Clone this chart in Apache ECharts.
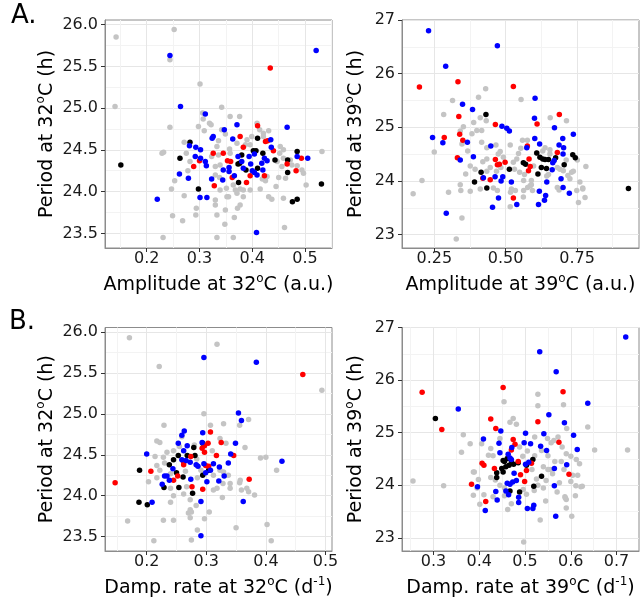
<!DOCTYPE html>
<html><head><meta charset="utf-8">
<script src="https://cdn.jsdelivr.net/npm/echarts@6/dist/echarts.min.js"></script>
<style>html,body{margin:0;padding:0;background:#fff}#c{width:641px;height:601px}</style>
</head><body><div id="c"></div>
<script>
// ---------- Panel A, 32°C: amplitude vs period ----------
const a32Grey = [[0.142,25.85],[0.252,25.94],[0.140,25.02],[0.244,25.58],[0.301,25.29],[0.249,23.71],[0.268,23.65],[0.231,23.45],[0.333,23.45],[0.348,23.61],[0.364,23.45],[0.366,23.69],[0.461,23.57],[0.244,24.77],[0.333,23.72],
[0.229,24.46],[0.232,24.47],[0.271,24.59],[0.253,24.13],[0.247,24.03],[0.275,24.46],[0.278,24.25],[0.282,24.36],[0.271,23.95],[0.306,24.94],[0.307,24.87],[0.319,24.82],[0.322,24.80],[0.298,24.78],[0.309,24.73],[0.342,25.01],[0.358,24.90],[0.376,24.90],[0.342,24.74],[0.349,24.69],[0.336,24.61],[0.333,24.54],[0.336,24.44],[0.323,24.42],[0.357,24.51],[0.358,24.46],[0.371,24.58],[0.376,24.33],[0.330,24.30],[0.339,24.32],[0.330,24.20],[0.338,24.17],[0.339,24.02],[0.351,24.04],[0.364,24.08],[0.368,24.02],[0.383,24.02],[0.371,23.98],[0.377,24.03],[0.396,24.02],[0.415,24.03],[0.419,24.15],[0.409,24.82],[0.414,24.74],[0.421,24.70],[0.431,24.73],[0.421,24.66],[0.399,24.66],[0.390,24.62],[0.396,24.56],[0.387,24.56],[0.453,24.54],[0.459,24.50],[0.452,24.46],[0.459,24.40],[0.447,24.36],[0.456,24.30],[0.472,24.38],[0.475,24.32],[0.494,24.26],[0.497,24.22],[0.485,24.31],[0.532,24.48],[0.502,24.08],[0.463,24.16],[0.450,24.17],[0.445,24.06],[0.459,23.92],[0.437,23.91],[0.428,24.18],[0.425,24.13],[0.377,23.84],[0.372,23.80],[0.349,23.78],[0.330,23.84],[0.294,23.80],[0.293,23.72],[0.355,23.94],[0.330,23.90],[0.352,23.94],[0.383,23.94],[0.431,23.94]];
const a32Black = [[0.151,24.32],[0.282,24.59],[0.263,24.40],[0.298,24.03],[0.374,24.11],[0.410,24.64],[0.402,24.49],[0.407,24.49],[0.420,24.46],[0.443,24.38],[0.485,24.48],[0.467,24.38],[0.467,24.23],[0.531,24.09],[0.485,23.91],[0.476,23.88],[0.373,24.33],[0.388,24.26],[0.410,24.28],[0.380,24.44],[0.376,24.34]];
const a32Red = [[0.434,25.48],[0.410,24.79],[0.377,24.66],[0.425,24.60],[0.429,24.61],[0.440,24.49],[0.326,24.46],[0.345,24.46],[0.300,24.37],[0.289,24.30],[0.353,24.37],[0.359,24.36],[0.383,24.53],[0.362,24.17],[0.328,24.07],[0.389,24.11],[0.396,24.19],[0.423,24.19],[0.466,24.33],[0.483,24.25],[0.493,24.40]];
const a32Blue = [[0.244,25.63],[0.521,25.69],[0.408,23.51],[0.264,25.02],[0.311,24.93],[0.371,24.80],[0.466,24.77],[0.326,24.66],[0.324,24.64],[0.347,24.74],[0.363,24.63],[0.435,24.62],[0.436,24.53],[0.281,24.55],[0.293,24.53],[0.302,24.50],[0.292,24.42],[0.302,24.40],[0.311,24.36],[0.313,24.31],[0.262,24.21],[0.279,24.16],[0.323,24.15],[0.344,24.14],[0.301,23.93],[0.314,23.93],[0.220,23.91],[0.345,24.26],[0.356,24.29],[0.356,24.24],[0.366,24.19],[0.373,24.42],[0.380,24.36],[0.394,24.42],[0.404,24.45],[0.397,24.33],[0.383,24.28],[0.400,24.25],[0.404,24.23],[0.409,24.20],[0.418,24.34],[0.420,24.26],[0.423,24.40],[0.428,24.37],[0.485,24.42],[0.505,24.40]];

// ---------- Panel A, 39°C ----------
const a39Grey = [[0.314,25.50],[0.430,25.72],[0.405,25.56],[0.554,25.52],[0.327,22.92],
[0.283,25.24],[0.250,24.54],[0.341,24.93],[0.352,25.01],[0.382,24.88],[0.399,24.94],[0.416,24.94],[0.388,25.09],[0.411,25.18],[0.432,25.12],[0.347,24.69],[0.367,24.56],[0.416,24.72],[0.434,24.62],[0.466,24.67],[0.481,24.55],[0.516,24.67],[0.545,24.51],[0.559,24.76],[0.576,24.76],[0.539,24.41],[0.527,24.35],[0.492,24.44],[0.474,24.50],[0.434,24.41],[0.420,24.36],[0.376,24.28],[0.360,24.13],[0.393,24.22],[0.434,24.18],[0.446,24.25],[0.468,24.18],[0.483,24.25],[0.531,24.22],[0.549,24.16],[0.566,24.12],[0.563,24.01],[0.590,24.01],[0.577,23.88],[0.586,23.91],[0.594,23.82],[0.520,23.85],[0.517,23.79],[0.534,23.82],[0.563,23.82],[0.457,23.87],[0.471,23.82],[0.411,23.85],[0.376,23.81],[0.341,23.93],[0.343,23.82],[0.300,23.79],[0.207,24.01],[0.176,23.76],[0.562,23.70],[0.516,23.52],[0.347,23.31],[0.630,24.56],[0.638,24.62],[0.655,24.58],[0.655,24.50],[0.681,24.25],[0.690,24.22],[0.702,24.19],[0.731,24.16],[0.737,24.18],[0.718,24.10],[0.725,24.04],[0.760,23.98],[0.749,23.82],[0.770,23.87],[0.781,24.27],[0.751,24.39],[0.712,24.39],[0.713,25.12],[0.681,23.88],[0.687,23.83],[0.590,23.93],[0.608,24.52],[0.598,24.28],[0.553,24.61],[0.650,24.12],[0.644,24.09],[0.770,23.85],[0.755,23.60],[0.778,23.69],[0.656,25.18]];
const a39Black = [[0.431,25.24],[0.414,24.16],[0.391,23.98],[0.434,23.87],[0.513,24.22],[0.562,24.34],[0.570,24.31],[0.609,24.52],[0.620,24.44],[0.638,24.40],[0.625,24.25],[0.643,24.23],[0.613,24.13],[0.675,24.43],[0.705,24.30],[0.735,24.49],[0.744,24.43],[0.930,23.86],[0.630,24.41],[0.650,24.40]];
const a39Red = [[0.198,25.75],[0.333,25.85],[0.527,25.76],[0.336,25.20],[0.285,24.81],[0.339,24.87],[0.350,24.76],[0.331,24.43],[0.464,25.05],[0.688,25.24],[0.610,25.06],[0.576,24.65],[0.681,24.53],[0.582,24.41],[0.464,24.40],[0.471,24.30],[0.478,24.31],[0.498,24.35],[0.586,24.27],[0.580,24.19],[0.420,24.05],[0.446,24.02],[0.527,23.68]];
const a39Blue = [[0.230,26.80],[0.471,26.52],[0.290,26.14],[0.603,25.54],[0.349,25.43],[0.384,25.33],[0.244,24.81],[0.280,24.71],[0.366,24.72],[0.341,24.39],[0.448,24.65],[0.387,24.45],[0.487,25.02],[0.504,24.98],[0.513,24.93],[0.601,25.17],[0.671,24.99],[0.737,24.87],[0.700,24.79],[0.687,24.67],[0.703,24.62],[0.602,24.79],[0.619,24.69],[0.574,24.62],[0.701,24.50],[0.670,24.38],[0.665,24.34],[0.663,24.21],[0.463,24.08],[0.490,24.08],[0.484,24.00],[0.422,24.06],[0.520,23.98],[0.644,23.98],[0.694,24.04],[0.701,23.88],[0.723,23.77],[0.618,23.81],[0.640,23.73],[0.636,23.64],[0.615,23.56],[0.475,23.68],[0.454,23.51],[0.539,23.56],[0.292,23.40]];

// ---------- Panel B, 32°C: damping rate vs period ----------
const b32Grey = [[0.171,25.93],[0.221,25.58],[0.318,25.85],[0.494,25.29],[0.168,23.69],[0.212,23.45],[0.275,23.46],[0.285,23.58],[0.297,23.72],[0.305,23.80],[0.273,23.83],[0.275,23.80],[0.245,23.70],[0.350,23.61],[0.402,23.65],[0.409,23.45],[0.418,24.31],[0.391,24.46],[0.400,24.47],[0.365,24.59],[0.356,24.86],[0.371,24.93],[0.381,24.01],[0.371,24.05],[0.356,24.16],[0.327,23.98],[0.240,23.92],[0.203,24.17],[0.214,24.48],[0.217,24.67],[0.229,24.86],[0.259,24.72],
[0.296,25.00],[0.307,24.86],[0.329,24.88],[0.222,24.65],[0.323,24.70],[0.333,24.64],[0.234,24.53],[0.228,24.47],[0.217,24.37],[0.217,24.22],[0.222,24.31],[0.240,24.27],[0.284,24.45],[0.291,24.31],[0.312,24.25],[0.323,24.31],[0.329,24.29],[0.337,24.25],[0.340,24.15],[0.328,24.15],[0.318,24.09],[0.267,24.11],[0.262,24.02],[0.245,24.00],[0.240,24.09],[0.273,23.95],[0.312,24.07],[0.340,24.09],[0.357,24.19],[0.368,24.09],[0.359,24.07],[0.228,23.70],[0.270,23.79],[0.283,23.88],[0.273,23.73],[0.280,24.62],[0.310,24.55],[0.255,24.60],[0.245,24.55],[0.265,24.30],[0.285,24.22],[0.230,24.40]];
const b32Black = [[0.188,24.31],[0.187,23.92],[0.201,23.89],[0.229,24.10],[0.254,24.10],[0.277,24.03],[0.279,24.59],[0.281,24.49],[0.268,24.49],[0.253,24.49],[0.245,24.44],[0.238,24.38],[0.261,24.23],[0.250,24.28],[0.294,24.25],[0.304,24.31],[0.294,24.64]];
const b32Red = [[0.147,24.16],[0.462,25.48],[0.307,24.78],[0.325,24.65],[0.293,24.58],[0.297,24.61],[0.303,24.64],[0.262,24.41],[0.274,24.48],[0.299,24.37],[0.304,24.36],[0.317,24.49],[0.346,24.49],[0.207,24.30],[0.245,24.19],[0.252,24.24],[0.276,24.11],[0.294,24.08],[0.372,24.20],[0.297,24.53],[0.262,24.38]];
const b32Blue = [[0.296,25.69],[0.384,25.63],[0.427,24.42],[0.291,23.51],[0.354,25.01],[0.359,24.92],[0.263,24.79],[0.259,24.74],[0.294,24.77],[0.200,24.51],[0.253,24.64],[0.268,24.61],[0.293,24.65],[0.349,24.64],[0.341,24.51],[0.337,24.40],[0.262,24.55],[0.259,24.44],[0.273,24.41],[0.283,24.38],[0.296,24.39],[0.307,24.31],[0.299,24.28],[0.312,24.39],[0.322,24.35],[0.244,24.33],[0.234,24.24],[0.238,24.19],[0.226,24.14],[0.274,24.20],[0.301,24.17],[0.321,24.18],[0.291,23.93],[0.362,23.93],[0.209,23.92],[0.230,24.24],[0.266,24.43],[0.286,24.36],[0.330,24.24]];

// ---------- Panel B, 39°C ----------
const b39Grey = [[0.255,24.08],[0.528,25.73],[0.497,22.92],[0.724,24.67],[0.652,24.67],
[0.454,25.59],[0.474,25.27],[0.481,25.16],[0.528,25.51],[0.584,25.53],[0.637,25.11],[0.365,24.96],[0.361,24.63],[0.380,24.79],[0.405,24.79],[0.389,24.25],[0.398,24.11],[0.420,24.57],[0.425,24.70],[0.488,24.73],[0.521,24.92],[0.549,24.89],[0.557,24.81],[0.563,24.85],[0.581,24.73],[0.612,24.49],[0.619,24.41],[0.579,24.45],[0.604,24.19],[0.625,23.98],[0.587,23.78],[0.590,23.73],[0.602,23.41],[0.533,23.34],[0.462,23.54],[0.401,23.64],[0.387,23.81],[0.322,23.99],[0.496,23.92],[0.503,23.83],[0.528,24.00],[0.525,24.12],[0.546,24.09],[0.550,24.56],[0.536,24.66],[0.521,24.56],[0.540,24.35],[0.555,24.30],[0.430,24.56],[0.445,24.89],[0.435,24.10],[0.445,24.00],[0.425,24.15],[0.455,23.95],[0.515,24.30],[0.520,23.90],[0.560,24.22],[0.565,24.45],[0.590,24.60],[0.600,24.55],[0.575,24.05],[0.585,24.30],[0.600,24.07],[0.410,23.82],[0.430,23.78],[0.467,25.20],[0.505,24.65],[0.495,24.55],[0.572,24.92],[0.550,24.30],[0.611,23.99],[0.615,24.19],[0.622,23.97],[0.588,23.76],[0.590,23.57],[0.387,24.25],[0.591,25.08],[0.545,23.70],[0.570,23.87],[0.610,23.80],[0.395,23.95],[0.455,23.80],[0.470,23.65],[0.540,23.95]];
const b39Black = [[0.304,25.27],[0.452,24.47],[0.461,24.51],[0.470,24.46],[0.475,24.40],[0.465,24.38],[0.458,24.35],[0.449,24.32],[0.438,24.24],[0.438,24.15],[0.452,24.25],[0.485,24.43],[0.517,24.49],[0.503,24.38],[0.536,24.17],[0.519,23.98],[0.488,23.87],[0.467,23.89],[0.455,24.45]];
const b39Red = [[0.275,25.77],[0.452,25.86],[0.583,25.78],[0.318,25.06],[0.425,25.26],[0.436,25.08],[0.474,24.87],[0.478,24.78],[0.528,25.21],[0.574,24.82],[0.596,24.21],[0.406,24.42],[0.410,24.38],[0.433,24.32],[0.383,24.02],[0.414,23.69],[0.485,24.45],[0.503,24.28],[0.514,24.42],[0.499,24.07],[0.490,24.20],[0.470,24.67]];
const b39Blue = [[0.720,26.82],[0.532,26.54],[0.568,26.16],[0.354,25.45],[0.552,25.34],[0.586,25.19],[0.447,25.03],[0.501,24.99],[0.541,24.98],[0.606,24.95],[0.614,24.68],[0.409,24.88],[0.443,24.80],[0.498,24.81],[0.512,24.79],[0.534,24.74],[0.547,24.66],[0.445,24.62],[0.463,24.59],[0.467,24.52],[0.470,24.49],[0.501,24.40],[0.508,24.44],[0.591,24.39],[0.564,24.32],[0.476,24.23],[0.481,24.09],[0.473,24.06],[0.467,24.02],[0.461,24.04],[0.396,23.97],[0.436,23.88],[0.458,23.89],[0.464,23.82],[0.439,23.72],[0.486,23.77],[0.486,23.67],[0.505,23.56],[0.517,23.56],[0.519,23.62],[0.413,23.52],[0.567,23.41],[0.564,23.99],[0.637,25.56],[0.471,24.72]];

// ---------- tick positions ----------
const ticksAmp32 = [0.2,0.3,0.4,0.5];       const minorAmp32 = [0.15,0.25,0.35,0.45,0.55];
const ticksAmp39 = [0.25,0.5,0.75];         const minorAmp39 = [0.125,0.375,0.625,0.875];
const ticksDamp32 = [0.2,0.3,0.4,0.5];      const minorDamp32 = [0.15,0.25,0.35,0.45];
const ticksDamp39 = [0.3,0.4,0.5,0.6,0.7];  const minorDamp39 = [0.25,0.35,0.45,0.55,0.65];
const ticksPer32 = [23.5,24.0,24.5,25.0,25.5,26.0]; const minorPer32 = [23.75,24.25,24.75,25.25,25.75];
const ticksPer39 = [23,24,25,26,27];        const minorPer39 = [23.5,24.5,25.5,26.5];

const FONT = 'DejaVu Sans';
const chart = echarts.init(document.getElementById('c'));

const richName = {
  a: {fontFamily: FONT, fontSize: 19, color: '#000', lineHeight: 24},
  s: {fontFamily: FONT, fontSize: 12, color: '#000', lineHeight: 14, verticalAlign: 'top'}
};

const grids = [
  {left: 105, top: 20, width: 227, height: 228},
  {left: 402, top: 20, width: 237, height: 228},
  {left: 105, top: 327.5, width: 227, height: 223.5},
  {left: 402, top: 327.5, width: 237, height: 223.5}
].map(g => Object.assign({show: true, borderColor: '#8c8c8c', borderWidth: 1, backgroundColor: '#fff', containLabel: false, outerBoundsMode: 'none'}, g));

function mainAxis(gi, min, max, ticks, dec, name, gap, isY) {
  return {
    type: 'value', gridIndex: gi, min: min, max: max, position: isY ? 'left' : 'bottom',
    axisLine: {show: true, lineStyle: {color: '#8c8c8c', width: 1}},
    axisTick: {show: true, length: 4, lineStyle: {color: '#333'}, customValues: ticks},
    axisLabel: {customValues: ticks, fontFamily: FONT, fontSize: 16, color: '#1a1a1a', margin: isY ? 7 : 3,
      formatter: v => Number(v).toFixed(dec)},
    splitLine: {show: true, lineStyle: {color: '#e6e6e6', width: 1}},
    name: name, nameLocation: 'middle', nameGap: gap,
    nameTextStyle: {fontFamily: FONT, fontSize: 19, color: '#000', rich: richName}
  };
}
function minorAxis(gi, min, max, ticks, isY) {
  return {
    type: 'value', gridIndex: gi, min: min, max: max, position: isY ? 'left' : 'bottom',
    axisLine: {show: false}, axisLabel: {show: false},
    axisTick: {show: false, customValues: ticks},
    splitLine: {show: true, lineStyle: {color: '#f3f3f3', width: 1}}
  };
}

const X32 = [0.121, 0.551], X39 = [0.137, 0.967], D32 = [0.130, 0.511], D39 = [0.231, 0.749];
const Y32 = [23.325, 26.055], Y39 = [22.75, 27.0];

const xNames = [
  '{a|Amplitude at 32}{s|o}{a|C (a.u.)}',
  '{a|Amplitude at 39}{s|o}{a|C (a.u.)}',
  '{a|Damp. rate at 32}{s|o}{a|C (d}{s|-1}{a|)}',
  '{a|Damp. rate at 39}{s|o}{a|C (d}{s|-1}{a|)}'
];
const yNames = ['{a|Period at 32}{s|o}{a|C (h)}', '{a|Period at 39}{s|o}{a|C (h)}'];

const xAxis = [
  mainAxis(0, X32[0], X32[1], ticksAmp32, 1, xNames[0], 25, false), minorAxis(0, X32[0], X32[1], minorAmp32, false),
  mainAxis(1, X39[0], X39[1], ticksAmp39, 2, xNames[1], 25, false), minorAxis(1, X39[0], X39[1], minorAmp39, false),
  mainAxis(2, D32[0], D32[1], ticksDamp32, 1, xNames[2], 25, false), minorAxis(2, D32[0], D32[1], minorDamp32, false),
  mainAxis(3, D39[0], D39[1], ticksDamp39, 1, xNames[3], 25, false), minorAxis(3, D39[0], D39[1], minorDamp39, false)
];
const yAxis = [
  mainAxis(0, Y32[0], Y32[1], ticksPer32, 1, yNames[0], 46, true), minorAxis(0, Y32[0], Y32[1], minorPer32, true),
  mainAxis(1, Y39[0], Y39[1], ticksPer39, 0, yNames[1], 34, true), minorAxis(1, Y39[0], Y39[1], minorPer39, true),
  mainAxis(2, Y32[0], Y32[1], ticksPer32, 1, yNames[0], 46, true), minorAxis(2, Y32[0], Y32[1], minorPer32, true),
  mainAxis(3, Y39[0], Y39[1], ticksPer39, 0, yNames[1], 34, true), minorAxis(3, Y39[0], Y39[1], minorPer39, true)
];

const panels = [
  [a32Grey, a32Black, a32Red, a32Blue],
  [a39Grey, a39Black, a39Red, a39Blue],
  [b32Grey, b32Black, b32Red, b32Blue],
  [b39Grey, b39Black, b39Red, b39Blue]
];
const colors = ['#c4c4c4', '#000000', '#ff0000', '#0000ff'];
const series = [];
panels.forEach((groups, gi) => {
  groups.forEach((d, ci) => {
    series.push({
      type: 'scatter', xAxisIndex: gi * 2, yAxisIndex: gi * 2, data: d,
      symbol: 'circle', symbolSize: 5.5, silent: true, animation: false,
      itemStyle: {color: colors[ci], opacity: 1}, z: 2 + ci
    });
  });
});

chart.setOption({
  animation: false,
  backgroundColor: '#fff',
  grid: grids, xAxis: xAxis, yAxis: yAxis, series: series,
  graphic: [
    {type: 'text', left: 11, top: 3, style: {text: 'A.', font: '26px "DejaVu Sans"', fill: '#000'}},
    {type: 'text', left: 9, top: 309, style: {text: 'B.', font: '26px "DejaVu Sans"', fill: '#000'}}
  ]
});
</script></body></html>
